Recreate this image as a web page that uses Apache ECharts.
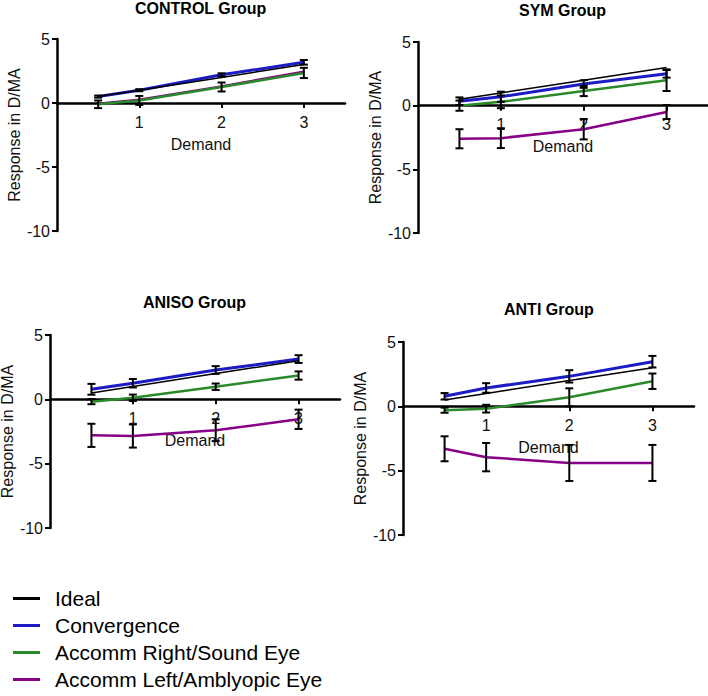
<!DOCTYPE html>
<html><head><meta charset="utf-8">
<script src="https://cdn.jsdelivr.net/npm/echarts@6/dist/echarts.min.js"></script>
<style>html,body{margin:0;padding:0;background:#fff}#c{width:708px;height:696px}</style>
</head><body><div id="c"></div>
<script>
const demand = [0.5, 1, 2, 3];
const ideal = [0.5, 1, 2, 3];
const xTickValues = [1, 2, 3];
const yTickValues = [-10, -5, 0, 5];
const groupNames = ['CONTROL Group', 'SYM Group', 'ANISO Group', 'ANTI Group'];
const seriesNames = ['Ideal', 'Convergence', 'Accomm Right/Sound Eye', 'Accomm Left/Amblyopic Eye'];

const controlConv = [0.5, 1.0, 2.2, 3.18];
const controlConvErr = [0.08, 0.08, 0.12, 0.18];
const controlRight = [-0.1, 0.2, 1.25, 2.35];
const controlRightErr = [0.3, 0.35, 0.35, 0.4];
const controlLeft = [-0.05, 0.25, 1.3, 2.45];
const controlLeftErr = [0, 0, 0, 0];

const symConv = [0.35, 0.7, 1.7, 2.5];
const symConvErr = [0.3, 0.4, 0.3, 0.3];
const symRight = [0.0, 0.3, 1.15, 2.0];
const symRightErr = [0.4, 0.5, 0.4, 0.85];
const symLeft = [-2.6, -2.55, -1.85, -0.5];
const symLeftErr = [0.75, 0.78, 0.8, 0.55];

const anisoConv = [0.78, 1.25, 2.28, 3.13];
const anisoConvErr = [0.42, 0.33, 0.3, 0.3];
const anisoRight = [-0.18, 0.12, 0.98, 1.85];
const anisoRightErr = [0.2, 0.25, 0.25, 0.32];
const anisoLeft = [-2.8, -2.85, -2.4, -1.55];
const anisoLeftErr = [0.9, 0.9, 0.85, 0.75];

const antiConv = [0.78, 1.43, 2.33, 3.47];
const antiConvErr = [0.25, 0.37, 0.48, 0.45];
const antiRight = [-0.3, -0.18, 0.7, 1.95];
const antiRightErr = [0.2, 0.3, 0.7, 0.6];
const antiLeft = [-3.3, -3.95, -4.4, -4.4];
const antiLeftErr = [0.97, 1.1, 1.4, 1.4];

const groups = [
  {conv: controlConv, convErr: controlConvErr, right: controlRight, rightErr: controlRightErr, left: controlLeft, leftErr: controlLeftErr},
  {conv: symConv, convErr: symConvErr, right: symRight, rightErr: symRightErr, left: symLeft, leftErr: symLeftErr},
  {conv: anisoConv, convErr: anisoConvErr, right: anisoRight, rightErr: anisoRightErr, left: anisoLeft, leftErr: anisoLeftErr},
  {conv: antiConv, convErr: antiConvErr, right: antiRight, rightErr: antiRightErr, left: antiLeft, leftErr: antiLeftErr}
];

const FONT = 'Liberation Sans, Arial, sans-serif';
const Y_MIN = -10, Y_MAX = 5;
const colors = {ideal: '#000000', conv: '#1c1cc4', right: '#2a8a2a', left: '#880088'};
const gridRects = [
  {left: 57, top: 39, width: 288, height: 192},
  {left: 418, top: 42, width: 290, height: 191},
  {left: 50, top: 335, width: 290, height: 193},
  {left: 403, top: 342, width: 291, height: 193}
];
const titlePos = [[135, 0], [519, 2], [143, 294], [504, 301]];

function pairs(ys) { return demand.map((d, k) => [d, ys[k]]); }
function errData(ys, es) { return demand.map((d, k) => [d, ys[k] - es[k], ys[k] + es[k]]); }

function renderErr(params, api) {
  const x = api.value(0), lo = api.value(1), hi = api.value(2);
  if (hi - lo <= 0) return null;
  const p1 = api.coord([x, hi]);
  const p2 = api.coord([x, lo]);
  const w = 4;
  const st = {stroke: '#000', lineWidth: 2};
  return {type: 'group', children: [
    {type: 'line', shape: {x1: p1[0], y1: p1[1], x2: p2[0], y2: p2[1]}, style: st},
    {type: 'line', shape: {x1: p1[0] - w, y1: p1[1], x2: p1[0] + w, y2: p1[1]}, style: st},
    {type: 'line', shape: {x1: p2[0] - w, y1: p2[1], x2: p2[0] + w, y2: p2[1]}, style: st}
  ]};
}

const option = {
  animation: false,
  backgroundColor: '#fff',
  textStyle: {fontFamily: FONT},
  title: groupNames.map((t, i) => ({
    text: t, left: titlePos[i][0], top: titlePos[i][1], padding: 0,
    textStyle: {fontFamily: FONT, fontSize: 16, fontWeight: 'bold', color: '#000'}
  })),
  legend: {
    data: seriesNames, orient: 'vertical', left: 13, top: 588, padding: 0,
    icon: 'rect', itemWidth: 27, itemHeight: 3, itemGap: 6,
    textStyle: {fontFamily: FONT, fontSize: 21, color: '#000', padding: [0, 0, 0, 10]}
  },
  grid: gridRects.map(r => Object.assign({containLabel: false, outerBoundsMode: 'none'}, r)),
  xAxis: gridRects.map((r, i) => ({
    type: 'value', gridIndex: i, min: 0, max: 3.5, interval: 1,
    position: 'bottom',
    offset: -r.height * (0 - Y_MIN) / (Y_MAX - Y_MIN),
    axisLine: {show: true, onZero: false, lineStyle: {color: '#000', width: 2.5}},
    axisTick: {show: true, length: 5, customValues: xTickValues, lineStyle: {color: '#000', width: 2}},
    axisLabel: {customValues: xTickValues, fontFamily: FONT, fontSize: 16, color: '#111', margin: 11},
    splitLine: {show: false},
    name: 'Demand', nameLocation: 'middle', nameGap: 33,
    nameTextStyle: {fontFamily: FONT, fontSize: 16, color: '#111'}
  })),
  yAxis: gridRects.map((r, i) => ({
    type: 'value', gridIndex: i, min: Y_MIN, max: Y_MAX, interval: 5,
    axisLine: {show: true, onZero: false, lineStyle: {color: '#000', width: 2.5}},
    axisTick: {show: true, length: 5, customValues: yTickValues, lineStyle: {color: '#000', width: 2}},
    axisLabel: {customValues: yTickValues, fontFamily: FONT, fontSize: 16, color: '#111', margin: 7},
    splitLine: {show: false},
    name: 'Response in D/MA', nameLocation: 'middle', nameGap: 35, nameRotate: 90,
    nameTextStyle: {fontFamily: FONT, fontSize: 16, color: '#111'}
  })),
  series: []
};

groups.forEach((g, i) => {
  const base = {type: 'line', xAxisIndex: i, yAxisIndex: i, showSymbol: false, symbol: 'none', silent: true};
  option.series.push(Object.assign({}, base, {name: seriesNames[3], data: pairs(g.left), color: colors.left, lineStyle: {color: colors.left, width: 2.5}, z: 2}));
  option.series.push(Object.assign({}, base, {name: seriesNames[2], data: pairs(g.right), color: colors.right, lineStyle: {color: colors.right, width: 2.5}, z: 3}));
  option.series.push(Object.assign({}, base, {name: seriesNames[1], data: pairs(g.conv), color: colors.conv, lineStyle: {color: colors.conv, width: 3}, z: 4}));
  option.series.push(Object.assign({}, base, {name: seriesNames[0], data: pairs(ideal), color: colors.ideal, lineStyle: {color: colors.ideal, width: 1.5}, z: 5}));
  [[g.conv, g.convErr], [g.right, g.rightErr], [g.left, g.leftErr]].forEach(([ys, es]) => {
    option.series.push({type: 'custom', xAxisIndex: i, yAxisIndex: i, silent: true, z: 6,
      renderItem: renderErr, data: errData(ys, es), encode: {x: 0, y: [1, 2]}});
  });
});

const chart = echarts.init(document.getElementById('c'), null, {renderer: 'svg'});
chart.setOption(option);
</script>
</body></html>
